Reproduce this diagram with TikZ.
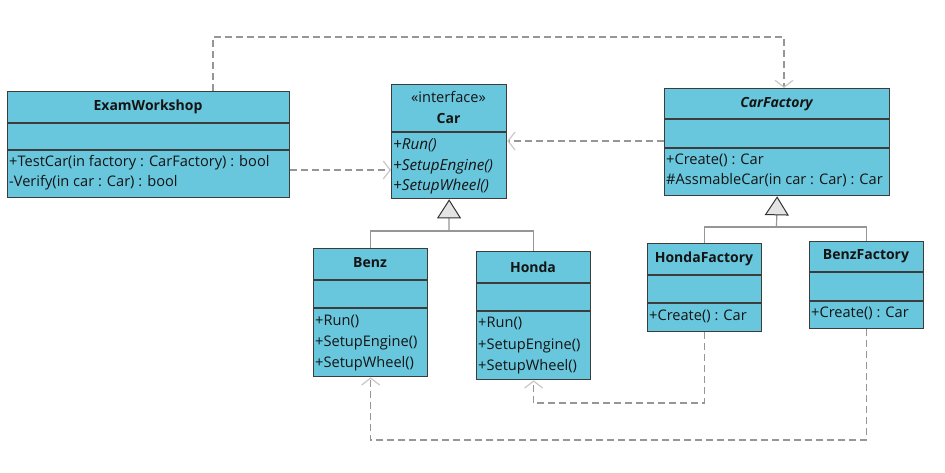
\documentclass[tikz,border=0pt]{standalone}
\usepackage{fontspec}
\setmainfont{Open Sans}
\usetikzlibrary{arrows.meta,calc}
\definecolor{boxfill}{RGB}{104,198,221}
\definecolor{boxline}{RGB}{60,60,60}
\definecolor{conn}{RGB}{150,150,150}
\definecolor{headc}{RGB}{200,200,200}
\definecolor{trifill}{RGB}{228,228,228}
\definecolor{txt}{RGB}{20,20,20}
\begin{document}
\begin{tikzpicture}[x=1pt,y=-1pt,
  font=\fontsize{14.6}{17}\selectfont,
  cls/.style={draw=boxline, fill=boxfill, line width=1.3pt, inner sep=0pt, anchor=north west},
  sep/.style={draw=boxline, line width=1.3pt},
  ttl/.style={font=\fontsize{14}{17}\selectfont\bfseries, text=txt, inner sep=0pt},
  mt/.style={anchor=west, inner sep=0pt, text height=11pt, text depth=3pt, text=txt},
  it/.style={font=\fontsize{15.2}{17}\selectfont\itshape},
  gen/.style={draw=conn, line width=1.2pt},
  tri/.style={-{Triangle[length=19pt, width=24pt, fill=trifill, color=black!80, line width=1pt]}},
  dep/.style={draw=conn, line width=1.2pt, dash pattern=on 7pt off 4pt,
    -{Straight Barb[length=7pt, width=18pt, color=headc, line width=1.2pt]}}]
\fill[white] (0,0) rectangle (945,472);
\useasboundingbox (0,0) rectangle (945,472);

% ExamWorkshop
\node[cls, minimum width=282pt, minimum height=106pt] (ew) at (7,91) {};
\draw[sep] (7,123) -- (289,123);
\draw[sep] (7,150) -- (289,150);
\node[ttl] (ewt) at (148,107) {ExamWorkshop};
\node[mt] (ewm1) at (9,162) {+TestCar(in factory : CarFactory) : bool};
\node[mt] (ewm2) at (9,182) {-Verify(in car : Car) : bool};

% Car
\node[cls, minimum width=115pt, minimum height=114pt] (car) at (391,84) {};
\draw[sep] (391,132) -- (506,132);
\node[inner sep=0pt, text=txt] (cars) at (448.5,97) {«interface»};
\node[ttl] (cart) at (448.5,118) {Car};
\node[mt, it] (carm1) at (393,145) {+Run()};
\node[mt, it] (carm2) at (393,166) {+SetupEngine()};
\node[mt, it] (carm3) at (393,186) {+SetupWheel()};

% CarFactory
\node[cls, minimum width=225pt, minimum height=107pt] (cf) at (664,88) {};
\draw[sep] (664,119) -- (889,119);
\draw[sep] (664,148) -- (889,148);
\node[ttl, font=\fontsize{14}{17}\selectfont\bfseries\itshape] (cft) at (776.5,104) {CarFactory};
\node[mt] (cfm1) at (666,160) {+Create() : Car};
\node[mt] (cfm2) at (666,180) {\#AssmableCar(in car : Car) : Car};

% Benz
\node[cls, minimum width=114pt, minimum height=128pt] (benz) at (313,248) {};
\draw[sep] (313,280) -- (427,280);
\draw[sep] (313,308) -- (427,308);
\node[ttl] (benzt) at (370,263) {Benz};
\node[mt] (benzm1) at (315,321) {+Run()};
\node[mt] (benzm2) at (315,342) {+SetupEngine()};
\node[mt] (benzm3) at (315,363) {+SetupWheel()};

% Honda
\node[cls, minimum width=114pt, minimum height=128pt] (honda) at (476,251) {};
\draw[sep] (476,283) -- (590,283);
\draw[sep] (476,311) -- (590,311);
\node[ttl] (hondat) at (533,267) {Honda};
\node[mt] (hondam1) at (478,323) {+Run()};
\node[mt] (hondam2) at (478,345) {+SetupEngine()};
\node[mt] (hondam3) at (478,366) {+SetupWheel()};

% HondaFactory
\node[cls, minimum width=114pt, minimum height=88pt] (hf) at (647,243) {};
\draw[sep] (647,275) -- (761,275);
\draw[sep] (647,303) -- (761,303);
\node[ttl] (hft) at (704,259) {HondaFactory};
\node[mt] (hfm1) at (649,316) {+Create() : Car};

% BenzFactory
\node[cls, minimum width=114pt, minimum height=87pt] (bf) at (809,241) {};
\draw[sep] (809,272) -- (923,272);
\draw[sep] (809,301) -- (923,301);
\node[ttl] (bft) at (866,256) {BenzFactory};
\node[mt] (bfm1) at (811,313) {+Create() : Car};

% generalisations
\coordinate (h1) at (449,231);
\draw[gen] (benz.north) |- (h1) -| (honda.north);
\draw[gen, tri] (h1) -- (car.south);
\coordinate (h2) at (776.5,227);
\draw[gen] (hf.north) |- (h2) -| (bf.north);
\draw[gen, tri] (h2) -- (cf.south);

% dependencies
\coordinate (p1) at (213,37);
\coordinate (p2) at (784,37);
\draw[dep] (ew.north -| p1) -- (p1) -- (p2) -- (p2 |- cf.north);
\coordinate (q1) at (0,170);
\draw[dep] (ew.east |- q1) -- (car.west |- q1);
\coordinate (q2) at (0,141);
\draw[dep] (cf.west |- q2) -- (car.east |- q2);
\coordinate (q3) at (0,403);
\draw[dep] (hf.south) -- (hf.south |- q3) -| (honda.south);
\coordinate (q4) at (0,440);
\draw[dep] (bf.south) -- (bf.south |- q4) -| (benz.south);
\end{tikzpicture}
\end{document}
